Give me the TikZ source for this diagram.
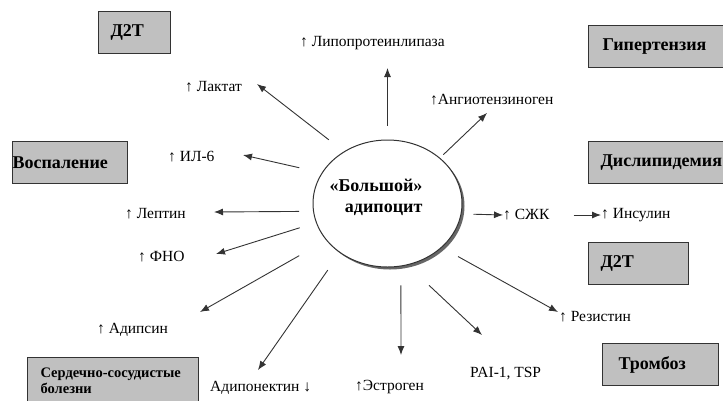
\documentclass[tikz,border=0pt]{standalone}
\usepackage{fontspec}
\setmainfont{Liberation Serif}
\usetikzlibrary{arrows.meta,shapes.geometric,shadows}
\definecolor{boxgray}{RGB}{192,192,192}
\definecolor{linegray}{RGB}{51,51,51}
\tikzset{
  bolezn/.style={draw=linegray,line width=1.2pt,fill=boxgray,anchor=north west,align=left,
    minimum height=42pt,inner ysep=0pt,font=\fontsize{18}{18}\selectfont\bfseries},
  lbl/.style={anchor=west,inner sep=0pt,font=\fontsize{15.5}{17}\selectfont},
  arr/.style={draw=linegray,line width=0.9pt,-{Latex[length=9pt,width=7pt]}}
}
\begin{document}
\begin{tikzpicture}[x=1pt,y=-1pt]
\useasboundingbox (0,0) rectangle (723,400);
\clip (0,0) rectangle (723,400);
% boxes
\node[bolezn,inner xsep=12pt,text width=48pt] (d2tA) at (98,11) {Д2Т};
\node[bolezn,inner xsep=0pt,text width=115pt] (vosp) at (12,141) {Воспаление};
\node[bolezn,inner xsep=14pt,text width=124pt] (giper) at (588,25) {Гипертензия};
\node[bolezn,inner xsep=12pt,text width=128pt] (dislip) at (588,141) {Дислипидемия};
\node[bolezn,inner xsep=12pt,text width=76pt] (d2tB) at (588,242) {Д2Т};
\node[bolezn,inner xsep=16pt,text width=84pt] (tromb) at (602,343) {Тромбоз};
\node[bolezn,inner xsep=13pt,text width=145pt,minimum height=46pt,
  font=\fontsize{14.5}{16}\selectfont\bfseries] (ssb) at (27,357) {Сердечно-сосудистые\\болезни};
% cell
\node[ellipse,draw=linegray,line width=1pt,fill=white,minimum width=149pt,minimum height=127pt,inner sep=0pt,
  drop shadow={shadow xshift=2.5pt,shadow yshift=-2.5pt,fill=black!60,opacity=1}] (adipo) at (387.5,203.5) {};
\node[align=right,font=\fontsize{18}{21}\selectfont\bfseries] (adipotxt) at (376,197) {«Большой»\\адипоцит};
% labels
\node[lbl] (lipo) at (300,43) {↑ Липопротеинлипаза};
\node[lbl] (angio) at (430,100) {↑Ангиотензиноген};
\node[lbl] (lakt) at (185,87) {↑ Лактат};
\node[lbl] (il) at (168,157) {↑ ИЛ-6};
\node[lbl] (lept) at (125,214) {↑ Лептин};
\node[lbl] (fno) at (138,257) {↑ ФНО};
\node[lbl] (adips) at (97,330) {↑ Адипсин};
\node[lbl] (adipon) at (210,388) {Адипонектин ↓};
\node[lbl] (estr) at (355,387) {↑Эстроген};
\node[lbl] (pai) at (470,374) {PAI-1, TSP};
\node[lbl] (rez) at (559,317) {↑ Резистин};
\node[lbl] (szhk) at (503,215) {↑ СЖК};
\node[lbl] (insul) at (601,215) {↑ Инсулин};
% arrow heads
\coordinate (hLipo) at (387.5,68);
\coordinate (hAngio) at (487,113);
\coordinate (hLakt) at (257,84);
\coordinate (hIl) at (243,155);
\coordinate (hLept) at (214,212);
\coordinate (hFno) at (216,254);
\coordinate (hAdips) at (200,312);
\coordinate (hAdipon) at (258,370);
\coordinate (hEstr) at (401,355);
\coordinate (hPai) at (482,335);
\coordinate (hRez) at (558,312);
\foreach \a/\s/\h in {90/14/hLipo,41/4.6/hAngio,130/19/hLakt,155/23/hIl,186.6/14/hLept,195.3/17/hFno,
  211.7/31/hAdips,226.8/21/hAdipon,282.2/19/hEstr,288.1/29.5/hPai,321.4/18.5/hRez}
  {\draw[arr,shorten <=\s pt] (adipo.\a) -- (\h);}
\draw[arr,shorten <=12pt] (adipo.352.7) -- (szhk.west);
\draw[arr,shorten <=24pt] (szhk.east) -- (insul.west);
\end{tikzpicture}
\end{document}
